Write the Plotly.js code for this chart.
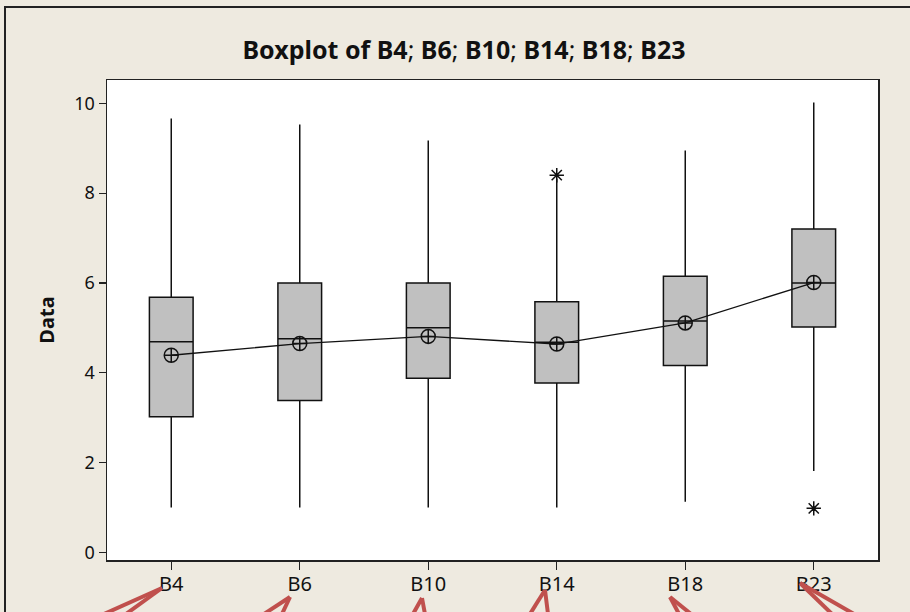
<!DOCTYPE html>
<html>
<head>
<meta charset="utf-8">
<script src="https://cdn.plot.ly/plotly-3.0.1.min.js"></script>
<style>html,body{margin:0;padding:0;background:#EEEAE0;} #chart{width:910px;height:612px;}</style>
</head>
<body>
<div id="chart"></div>
<script>
// ---- Data ----
var categories = ['B4', 'B6', 'B10', 'B14', 'B18', 'B23'];
var q1Values = [3.02, 3.38, 3.88, 3.77, 4.16, 5.02];
var medianValues = [4.69, 4.76, 5.00, 4.68, 5.15, 6.00];
var q3Values = [5.68, 6.00, 6.00, 5.58, 6.15, 7.20];
var lowerWhisker = [1.00, 1.00, 1.00, 1.00, 1.13, 1.81];
var upperWhisker = [9.66, 9.53, 9.17, 8.32, 8.95, 10.02];
var meanValues = [4.39, 4.65, 4.81, 4.64, 5.11, 6.01];
var outlierCategories = ['B14', 'B23'];
var outlierValues = [8.40, 0.98];
var yTickValues = [0, 2, 4, 6, 8, 10];

// ---- Layout geometry (pixels) ----
var W = 910, H = 612;
var mL = 107, mR = 32, mT = 80, mB = 52;
var plotW = W - mL - mR, plotH = H - mT - mB;
function px(x) { return (x - mL) / plotW; }
function py(y) { return (H - mB - y) / plotH; }

var boxTrace = {
  type: 'box',
  x: categories,
  q1: q1Values,
  median: medianValues,
  q3: q3Values,
  lowerfence: lowerWhisker,
  upperfence: upperWhisker,
  boxpoints: false,
  width: 0.34,
  whiskerwidth: 0,
  fillcolor: '#C0C0C0',
  line: { color: '#111111', width: 1.5 },
  hoverinfo: 'skip',
  showlegend: false
};

var meanTrace = {
  type: 'scatter',
  mode: 'lines+markers',
  x: categories,
  y: meanValues,
  line: { color: '#111111', width: 1.3 },
  marker: { symbol: 'circle-cross-open', size: 14, color: '#111111', line: { width: 1.5, color: '#111111' } },
  showlegend: false
};

var outlierTrace = {
  type: 'scatter',
  mode: 'markers',
  x: outlierCategories,
  y: outlierValues,
  marker: { symbol: 'asterisk-open', size: 12, color: '#111111', line: { width: 1.5, color: '#111111' } },
  showlegend: false
};

var red = '#C0504D';
var arrowDefs = [
  [162, 588, 104, 614, 126, 614],
  [290, 597, 264, 614, 282, 614],
  [422, 598, 413, 614, 425, 614],
  [545, 590, 530, 614, 548, 614],
  [670, 597, 679, 614, 691, 614],
  [800, 583, 832, 614, 854, 614]
];
var shapes = [];
arrowDefs.forEach(function (a) {
  shapes.push({ type: 'line', xref: 'paper', yref: 'paper', x0: px(a[0]), y0: py(a[1]), x1: px(a[2]), y1: py(a[3]), line: { color: red, width: 4 } });
  shapes.push({ type: 'line', xref: 'paper', yref: 'paper', x0: px(a[0]), y0: py(a[1]), x1: px(a[4]), y1: py(a[5]), line: { color: red, width: 4 } });
});
// outer frame of the figure
shapes.push({ type: 'rect', xref: 'paper', yref: 'paper', x0: px(5), y0: py(7), x1: px(930), y1: py(640), line: { color: '#222222', width: 2 }, fillcolor: 'rgba(0,0,0,0)', layer: 'below' });

var font = 'Noto Sans, Liberation Sans, sans-serif';
var layout = {
  width: W, height: H,
  margin: { l: mL, r: mR, t: mT, b: mB, pad: 0 },
  paper_bgcolor: '#EEEAE0',
  plot_bgcolor: '#FFFFFF',
  font: { family: font, color: '#111111', size: 18 },
  title: {
    text: '<b>Boxplot of B4</b>; <b>B6</b>; <b>B10</b>; <b>B14</b>; <b>B18</b>; <b>B23</b>',
    font: { family: font, size: 25, color: '#111111' },
    x: 464 / W, xref: 'container', xanchor: 'center',
    y: 1 - 50 / H, yref: 'container', yanchor: 'middle'
  },
  xaxis: {
    type: 'category',
    range: [-0.5, 5.5],
    showline: true, linecolor: '#222222', linewidth: 1.5, mirror: true,
    ticks: 'outside', ticklen: 8, tickwidth: 1.3, tickcolor: '#222222',
    ticklabelstandoff: -3,
    showgrid: false, zeroline: false,
    tickfont: { family: font, size: 20, color: '#111111' }
  },
  yaxis: {
    range: [-0.17, 10.52],
    tickvals: yTickValues,
    showline: true, linecolor: '#222222', linewidth: 1.5, mirror: true,
    ticks: 'outside', ticklen: 7, tickwidth: 1.3, tickcolor: '#222222',
    showgrid: false, zeroline: false,
    tickfont: { family: font, size: 18, color: '#111111' },
    title: { text: '<b>Data</b>', font: { family: font, size: 20, color: '#111111' }, standoff: 14 }
  },
  shapes: shapes,
  showlegend: false
};

Plotly.newPlot('chart', [boxTrace, meanTrace, outlierTrace], layout, { staticPlot: true, displayModeBar: false });
</script>
</body>
</html>
